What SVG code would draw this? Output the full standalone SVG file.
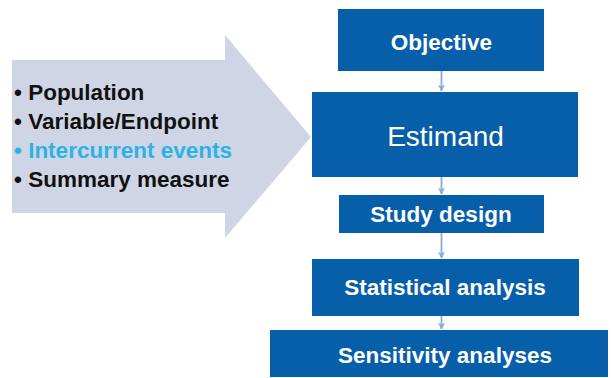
<svg xmlns="http://www.w3.org/2000/svg" width="611" height="378" viewBox="0 0 611 378">
<defs>
<style>
.box{fill:#075ea9;}
.bt{font-family:"Liberation Sans",Arial,sans-serif;font-weight:bold;font-size:22.5px;fill:#ffffff;text-anchor:middle;}
.lt{font-family:"Liberation Sans",Arial,sans-serif;font-weight:bold;font-size:22.5px;fill:#111111;}
.con{stroke:#85add6;stroke-width:1.8;fill:none;}
</style>
<marker id="ah" viewBox="0 0 10 10" refX="9" refY="5" markerWidth="7" markerHeight="7" markerUnits="userSpaceOnUse" orient="auto">
<path d="M1,1 L9,5 L1,9 L3,5 Z" fill="#85add6" stroke="#85add6" stroke-width="1"/>
</marker>
</defs>
<rect width="611" height="378" fill="#ffffff"/>
<g id="bigarrow">
<polygon points="12,60 225,60 225,35 311,137 225,238 225,213 12,213" fill="#d0d5e5"/>
<text class="lt" x="14" y="100">• Population</text>
<text class="lt" x="14" y="129">• Variable/Endpoint</text>
<text class="lt" x="14" y="158" style="fill:#2bb3e6">• Intercurrent events</text>
<text class="lt" x="14" y="187">• Summary measure</text>
</g>
<g id="connectors">
<line class="con" x1="441.5" y1="71" x2="441.5" y2="91" marker-end="url(#ah)"/>
<line class="con" x1="441.5" y1="177" x2="441.5" y2="194" marker-end="url(#ah)"/>
<line class="con" x1="441.5" y1="233" x2="441.5" y2="258" marker-end="url(#ah)"/>
<line class="con" x1="441.5" y1="316" x2="441.5" y2="329" marker-end="url(#ah)"/>
</g>
<g id="objective">
<rect class="box" x="338" y="9" width="206" height="62"/>
<text class="bt" x="441.5" y="50">Objective</text>
</g>
<g id="estimand">
<rect class="box" x="312" y="92" width="266" height="85"/>
<text class="bt" x="445.5" y="146" style="font-weight:normal;font-size:28px">Estimand</text>
</g>
<g id="studydesign">
<rect class="box" x="339" y="195" width="205" height="38"/>
<text class="bt" x="441" y="222">Study design</text>
</g>
<g id="statistical">
<rect class="box" x="312" y="259" width="267" height="57"/>
<text class="bt" x="445" y="295">Statistical analysis</text>
</g>
<g id="sensitivity">
<rect class="box" x="270" y="330" width="338" height="47"/>
<text class="bt" x="445" y="363">Sensitivity analyses</text>
</g>
</svg>
